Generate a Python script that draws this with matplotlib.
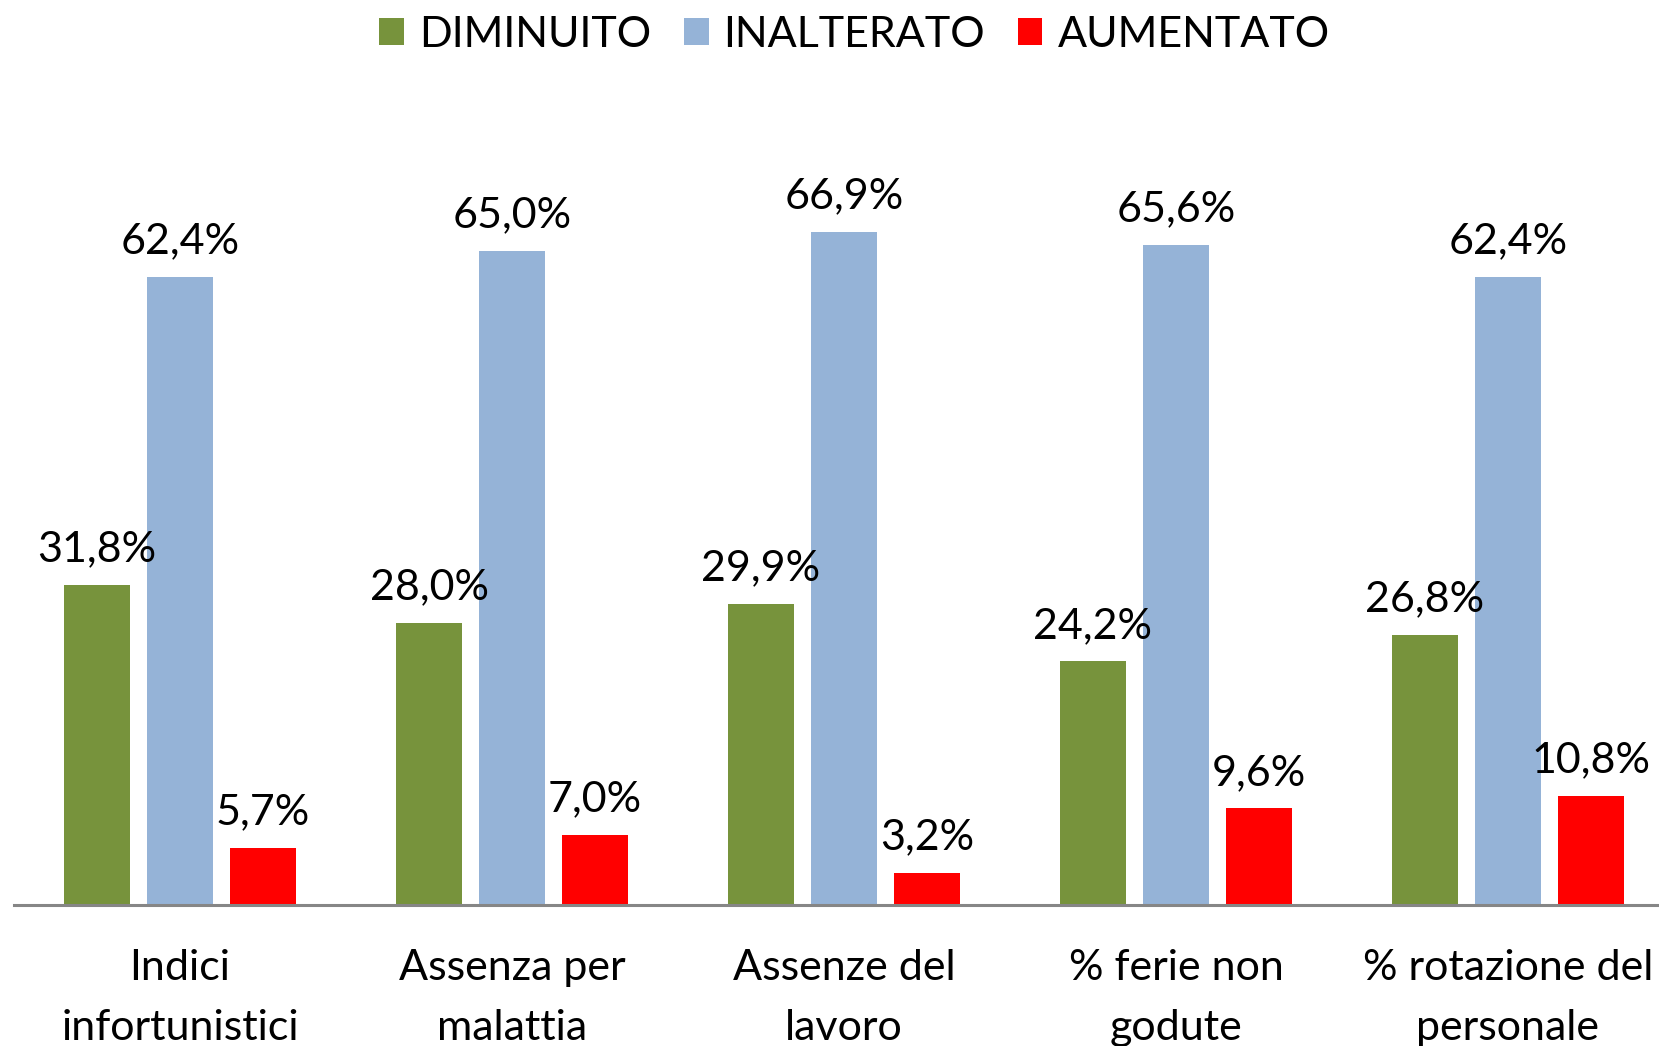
import matplotlib
matplotlib.use("Agg")
import matplotlib.pyplot as plt
import numpy as np

# ==============================================================================
# DATI
# ==============================================================================
categorie = ["Indici\ninfortunistici", "Assenza per\nmalattia", "Assenze del\nlavoro",
             "% ferie non\ngodute", "% rotazione del\npersonale"]
diminuito = [31.8, 28.0, 29.9, 24.2, 26.8]
inalterato = [62.4, 65.0, 66.9, 65.6, 62.4]
aumentato = [5.7, 7.0, 3.2, 9.6, 10.8]
serie_nomi = ["DIMINUITO", "INALTERATO", "AUMENTATO"]
colori = ["#77933C", "#95B3D7", "#FF0000"]

plt.rcParams['font.family'] = ['Lato', 'DejaVu Sans']
FS = 31

fig = plt.figure(figsize=(16.59, 10.46), dpi=100)
ax = fig.add_axes([0.00844, 0.1348, 1.0006, 0.7696])

x = np.arange(len(categorie))
larghezza = 0.2
passo = 0.25
for i, (valori, nome, colore) in enumerate(zip([diminuito, inalterato, aumentato], serie_nomi, colori)):
    pos = x + (i - 1) * passo
    ax.bar(pos, valori, larghezza, color=colore, label=nome)
    for xb, v in zip(pos, valori):
        ax.annotate(f"{v:.1f}%".replace(".", ","), (xb, v), xytext=(0, 12),
                    textcoords="offset points", ha="center", va="bottom",
                    fontsize=FS, color="black", annotation_clip=False)

ax.set_xlim(-0.5, len(categorie) - 0.5)
ax.set_ylim(0, 80)
ax.set_xticks(x)
ax.set_xticklabels(categorie, fontsize=FS, linespacing=1.7)
ax.tick_params(axis="x", length=0, pad=32)
ax.set_yticks([])
for lato in ["top", "right", "left"]:
    ax.spines[lato].set_visible(False)
ax.spines["bottom"].set_color("#868686")
ax.spines["bottom"].set_linewidth(2.2)

fig.legend(loc="center", bbox_to_anchor=(0.515, 0.967), ncol=3, frameon=False,
           fontsize=FS, handlelength=0.58, handleheight=0.58, handletextpad=0.35,
           columnspacing=0.75, borderaxespad=0)

fig.savefig("out.png", dpi=100)
